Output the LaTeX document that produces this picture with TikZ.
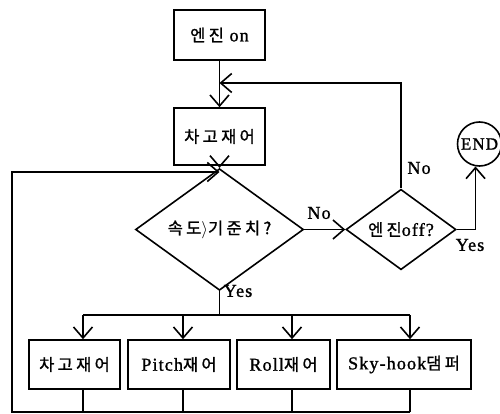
\documentclass[tikz,border=0pt]{standalone}
\usepackage{fontspec}
\setmainfont[Scale=1.1,LetterSpace=6,FakeBold=1.2]{Liberation Serif}
\newfontfamily\kr[LetterSpace=20,FakeBold=1.2]{Noto Sans CJK KR}
\usetikzlibrary{arrows.meta, shapes.geometric}
\tikzset{%
	box/.style={
		rectangle,
		draw,
		line width=1.6pt,
		inner sep=0pt
	},
	decision/.style={
		diamond,
		draw,
		line width=1.6pt,
		inner sep=0pt,
		minimum height=73pt
	},
	flow/.style={
		line width=1.6pt,
		-{Straight Barb[length=11pt,width=19pt]}
	},
	plain/.style={line width=1.6pt},
	lbl/.style={inner sep=0pt},
}
\begin{document}
\begin{tikzpicture}[
				x=1pt, y=-1pt,
				every node/.style={font=\fontsize{16.5pt}{19pt}\selectfont}
				]
				\useasboundingbox (0,0) rectangle (500,414);
				% main column
				\node[box, minimum width=91pt, minimum height=50pt] (on) at (219.5,35) {{\kr 엔진} on};
				\node[box, minimum width=91pt, minimum height=57pt] (ctl) at (219.5,136.5) {\kr 차고재어};
				\node[decision, minimum width=168pt] (spd) at (219.5,229.5) {{\kr 속도}$\rangle${\kr 기준치?}};
				\node[decision, minimum width=110pt] (off) at (401,229.5) {{\kr 엔진}off?};
				\node[circle, draw, line width=1.6pt, minimum size=44pt, inner sep=0pt,
					font=\fontsize{15.5pt}{18pt}\selectfont] (end) at (479.5,144) {END};
				% control boxes
				\node[box, minimum width=91pt, minimum height=49pt] (b1) at (74.5,364.5) {\kr 차고재어};
				\node[box, minimum width=102pt, minimum height=49pt] (b2) at (179,364.5) {Pitch{\kr 재어}};
				\node[box, minimum width=93pt, minimum height=49pt] (b3) at (283.5,364.5) {Roll{\kr 재어}};
				\node[box, minimum width=134pt, minimum height=49pt] (b4) at (404,364.5) {Sky-hook{\kr 댐퍼}};
				% joints
				\coordinate (m1) at (219.5,83);
				\coordinate (m2) at (219.5,172);
				\coordinate (split) at (219.5,315);
				\coordinate (p1) at (83,315);
				\coordinate (p2) at (183,315);
				\coordinate (p3) at (292,315);
				\coordinate (p4) at (410,315);
				\coordinate (corner) at (12,412);
				\coordinate (loop) at (12,172);
				% connectors
				\draw[flow] (on) -- (ctl);
				\draw[flow] (off.north) |- (m1);
				\draw[flow] (ctl) -- (spd);
				\draw[flow] (spd) -- (off);
				\draw[flow] (off.east) -| (end.260);
				\draw[plain] (spd.south) -- (split);
				\draw[plain] (p1) -- (p4);
				\foreach \i in {1,...,4} {
					\draw[flow] (p\i) -- (p\i |- b\i.north);
					\draw[plain] (b\i.south -| p\i) -- (p\i |- corner);
				}
				\draw[flow] (p4 |- corner) -- (corner) -- (loop) -- (m2);
				% labels
				\node[lbl] (no1) at (319,213) {No};
				\node[lbl] (no2) at (419,168) {No};
				\node[lbl] (yes1) at (238,291) {Yes};
				\node[lbl] (yes2) at (470,245) {Yes};
			\end{tikzpicture}
\end{document}
